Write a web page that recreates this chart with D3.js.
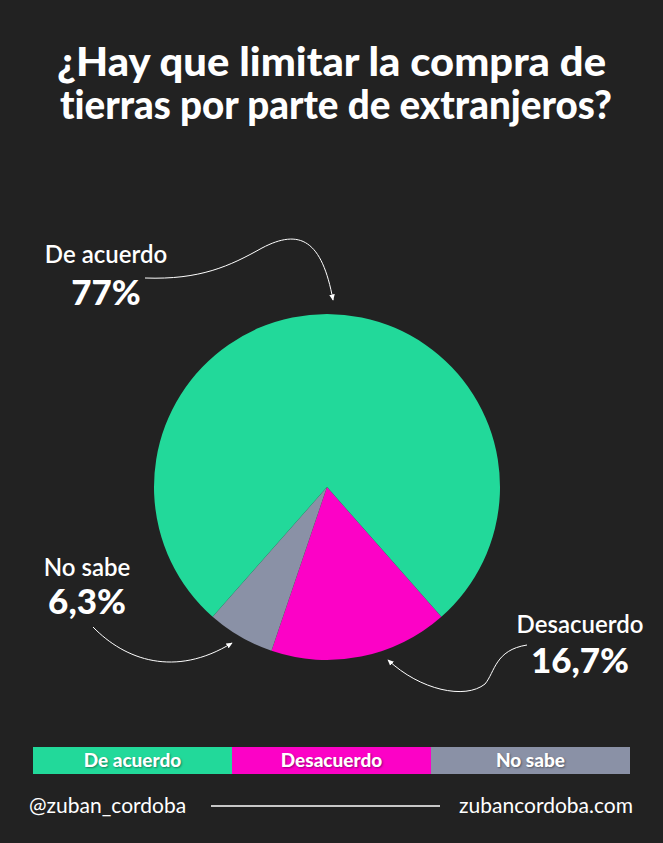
<!doctype html>
<html lang="es">
<head>
  <meta charset="UTF-8">
  <title>Compra de tierras</title>
  <script src="https://cdn.jsdelivr.net/npm/d3@7"></script>
  <style>
    body { margin: 0; background: #222222; }
    svg text { font-family: Lato, "Open Sans", sans-serif; fill: #ffffff; font-variant-ligatures: none; }
  </style>
</head>
<body>
  <script>
    var categories = ["Desacuerdo", "No sabe", "De acuerdo"];
    var values = [16.7, 6.3, 77];
    var valueLabels = ["16,7%", "6,3%", "77%"];
    var colors = ["#fc02c6", "#8a91a6", "#22d99a"];
    var legendOrder = ["De acuerdo", "Desacuerdo", "No sabe"];
    var titleLines = ["¿Hay que limitar la compra de", "tierras por parte de extranjeros?"];

    var width = 663, height = 843;

    var svg = d3.select("body").append("svg")
      .attr("width", width)
      .attr("height", height);

    svg.append("rect").attr("width", width).attr("height", height).attr("fill", "#222222");

    var titleSpan = [[57, 606], [60, 612]];
    svg.selectAll("text.title")
      .data(titleLines)
      .enter()
      .append("text")
      .attr("class", "title")
      .attr("x", function(d, i) { return titleSpan[i][0]; })
      .attr("y", function(d, i) { return 76 + i * 43; })
      .attr("font-size", 39)
      .attr("font-weight", 900)
      .attr("textLength", function(d, i) { return titleSpan[i][1] - titleSpan[i][0]; })
      .attr("lengthAdjust", "spacingAndGlyphs")
      .text(function(d) { return d; });

    // pie
    var color = d3.scaleOrdinal().domain(categories).range(colors);
    var start = 138.6 * Math.PI / 180;
    var pie = d3.pie().sort(null).startAngle(start).endAngle(start + 2 * Math.PI);
    var arc = d3.arc().innerRadius(0).outerRadius(173);

    var g = svg.append("g").attr("transform", "translate(327,487)");
    g.selectAll("path")
      .data(pie(values))
      .enter()
      .append("path")
      .attr("d", arc)
      .attr("fill", function(d, i) { return color(categories[i]); });

    // labels
    var labelPos = {
      "De acuerdo": { x: 106, y1: 263, y2: 305 },
      "No sabe": { x: 87, y1: 576, y2: 614 },
      "Desacuerdo": { x: 580, y1: 633, y2: 673 }
    };
    categories.forEach(function(c, i) {
      var p = labelPos[c];
      svg.append("text").attr("x", p.x).attr("y", p.y1).attr("text-anchor", "middle")
        .attr("font-size", 24).attr("font-weight", 600).text(c);
      svg.append("text").attr("x", p.x).attr("y", p.y2).attr("text-anchor", "middle")
        .attr("font-size", 35).attr("font-weight", 900).text(valueLabels[i]);
    });

    // arrows
    var defs = svg.append("defs");
    defs.append("marker")
      .attr("id", "head")
      .attr("viewBox", "0 0 10 10")
      .attr("refX", 8).attr("refY", 5)
      .attr("markerWidth", 7).attr("markerHeight", 7)
      .attr("orient", "auto")
      .append("path")
      .attr("d", "M0,1 L9,5 L0,9 z")
      .attr("fill", "#ffffff");

    var arrows = [
      "M145,278 C200,280 230,266 262,248 C300,228 322,240 333,300",
      "M93,627 C125,660 175,678 232,643",
      "M527,645 C495,650 495,672 485,684 C465,700 420,690 388,660"
    ];
    svg.selectAll("path.arrow")
      .data(arrows)
      .enter()
      .append("path")
      .attr("class", "arrow")
      .attr("d", function(d) { return d; })
      .attr("fill", "none")
      .attr("stroke", "#ffffff")
      .attr("stroke-width", 1)
      .attr("marker-end", "url(#head)");

    // legend bar
    var x = d3.scaleBand().domain(legendOrder).range([33, 630]);
    var leg = svg.selectAll("g.leg")
      .data(legendOrder)
      .enter()
      .append("g")
      .attr("class", "leg");
    leg.append("rect")
      .attr("x", function(d) { return x(d); })
      .attr("y", 747)
      .attr("width", x.bandwidth())
      .attr("height", 27)
      .attr("fill", function(d) { return color(d); });
    leg.append("text")
      .attr("x", function(d) { return x(d) + x.bandwidth() / 2; })
      .attr("y", 767)
      .attr("text-anchor", "middle")
      .attr("font-size", 19)
      .attr("font-weight", 900)
      .style("text-shadow", "1px 1px 2px rgba(0,0,0,0.4)")
      .text(function(d) { return d; });

    // footer
    svg.append("text").attr("x", 29).attr("y", 813).attr("font-size", 21).text("@zuban_cordoba");
    svg.append("line").attr("x1", 211).attr("x2", 440).attr("y1", 806).attr("y2", 806)
      .attr("stroke", "#ffffff").attr("stroke-width", 1.5);
    svg.append("text").attr("x", 633).attr("y", 813).attr("text-anchor", "end").attr("font-size", 21).text("zubancordoba.com");
  </script>
</body>
</html>
